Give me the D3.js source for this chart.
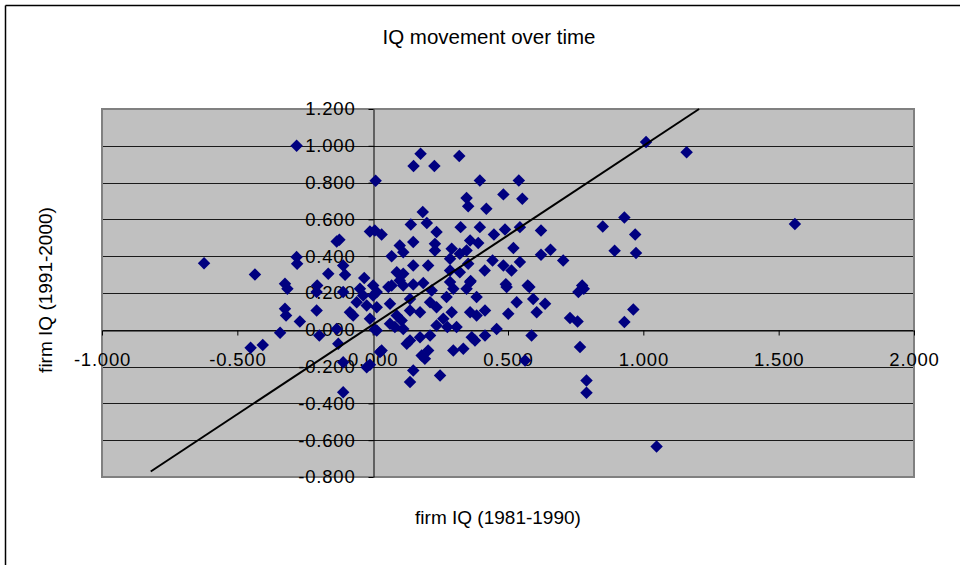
<!DOCTYPE html>
<html>
<head>
<meta charset="utf-8">
<script src="https://cdn.jsdelivr.net/npm/d3@7"></script>
<style>
  html, body { margin: 0; padding: 0; background: #ffffff; }
  svg { display: block; font-family: "Liberation Sans", Arial, sans-serif; }
</style>
</head>
<body>
<svg id="chart" width="960" height="565"></svg>
<script>
const chartTitle = "IQ movement over time";
const xAxisTitle = "firm IQ (1981-1990)";
const yAxisTitle = "firm IQ (1991-2000)";

const xTickValues = [-1, -0.5, 0, 0.5, 1, 1.5, 2];
const xTickLabels = ["-1.000", "-0.500", "0.000", "0.500", "1.000", "1.500", "2.000"];
const yTickValues = [-0.8, -0.6, -0.4, -0.2, 0, 0.2, 0.4, 0.6, 0.8, 1.0, 1.2];
const yTickLabels = ["-0.800", "-0.600", "-0.400", "-0.200", "0.000", "0.200", "0.400", "0.600", "0.800", "1.000", "1.200"];

const xValues = [
  -0.623, -0.435, -0.281, -0.451, -0.406, 1.010, 1.160, 1.560, 1.049,
  0.177, 0.151, 0.228, 0.320, 0.011, 0.396, 0.540, 0.483, 0.553, 0.347,
  0.353, 0.420, 0.185, 0.141, 0.200, 0.236, 0.325, 0.396, 0.448, 0.489,
  0.544, 0.622, 0.850, 0.930, 0.970, 0.894, 0.973, 0.704, 0.622, 0.657,
  0.520, 0.443, 0.544, 0.483, 0.513, 0.414, 0.362, 0.492, 0.573, 0.774,
  0.008, 0.033, -0.010, 0.070, 0.100, 0.113, 0.150, 0.230, 0.230, 0.205,
  0.150, 0.089, 0.113, 0.292, 0.286, 0.322, 0.347, 0.360, 0.390, 0.353,
  0.286, 0.322, 0.286, 0.360, 0.150, 0.187, 0.070, 0.002, 0.100,
  -0.281, -0.279, -0.133, -0.123, -0.164, -0.109, -0.102, -0.031, -0.324,
  -0.315, -0.205, -0.207, -0.109, -0.324, -0.320, -0.207, -0.269, -0.084,
  -0.072, -0.342, -0.197, -0.127, -0.109, -0.022, -0.109, -0.047, -0.035,
  -0.059, -0.022, 0.002, -0.010, 0.008, -0.133, 0.027,
  0.138, 0.150, 0.249, 0.193, 0.205, 0.181, 0.138, 0.175, 0.212, 0.298,
  0.335, 0.310, 0.366, 0.378, 0.415, 0.458, 0.276, 0.064, 0.015, -0.010,
  0.563, 0.501, 0.532, 0.495, 0.384, 0.415, 0.360, 0.384, 0.347, 0.298,
  0.292, 0.261, 0.236, 0.212, 0.175, 0.138, 0.107, 0.089, 0.064, 0.015,
  0.015, 0.058, 0.113, 0.138, 0.218, 0.273, 0.113, 0.082, 0.126, 0.236,
  0.587, 0.766, 0.790, 0.790, 0.963, 0.930, 0.729, 0.757, 0.760, 0.780,
  0.637, 0.606, 0.593, 0.579, 0.033
];
const yValues = [
  0.362, 0.300, 1.000, -0.098, -0.082, 1.020, 0.965, 0.575, -0.634,
  0.957, 0.890, 0.890, 0.944, 0.810, 0.812, 0.812, 0.736, 0.712, 0.716,
  0.672, 0.658, 0.640, 0.572, 0.580, 0.531, 0.558, 0.558, 0.518, 0.545,
  0.558, 0.540, 0.561, 0.610, 0.518, 0.430, 0.418, 0.377, 0.408, 0.435,
  0.444, 0.377, 0.368, 0.350, 0.322, 0.322, 0.265, 0.248, 0.241, 0.241,
  0.540, 0.518, 0.534, 0.400, 0.458, 0.422, 0.477, 0.467, 0.431, 0.350,
  0.350, 0.313, 0.304, 0.440, 0.386, 0.413, 0.431, 0.485, 0.472, 0.359,
  0.322, 0.313, 0.260, 0.260, 0.246, 0.255, 0.241, 0.241, 0.268,
  0.395, 0.359, 0.480, 0.489, 0.304, 0.350, 0.299, 0.281, 0.250,
  0.223, 0.241, 0.205, 0.205, 0.114, 0.078, 0.105, 0.045, 0.096,
  0.078, -0.016, -0.031, -0.076, -0.176, -0.203, -0.339, 0.223, 0.186,
  0.150, 0.132, 0.186, 0.060, 0.002, 0.005, -0.121,
  -0.284, -0.221, -0.248, -0.158, -0.112, -0.140, -0.058, -0.040, -0.031, -0.112,
  -0.103, 0.015, -0.040, -0.058, -0.031, 0.005, 0.015, 0.033, -0.004, -0.190,
  -0.167, 0.087, 0.150, 0.232, 0.078, 0.105, 0.096, 0.178, 0.223, 0.223,
  0.096, 0.060, 0.123, 0.150, 0.096, 0.105, 0.050, 0.078, 0.141, 0.205,
  0.123, 0.232, 0.241, 0.168, 0.214, 0.178, 0.005, 0.015, -0.076, 0.023,
  -0.031, -0.094, -0.275, -0.342, 0.110, 0.042, 0.064, 0.045, 0.205, 0.223,
  0.141, 0.096, 0.168, 0.232, -0.112
];

// reference line drawn on the chart
const lineX = [-0.82, 1.206];
const lineY = [-0.77, 1.2];

const svg = d3.select("#chart");
const W = 960, H = 565;
const plot = { left: 102, right: 914, top: 109, bottom: 477 };

const x = d3.scaleLinear().domain([-1, 2]).range([plot.left, plot.right]);
const y = d3.scaleLinear().domain([-0.8, 1.2]).range([plot.bottom, plot.top]);

// chart area border (top and left visible)
svg.append("rect").attr("x", 0).attr("y", 0).attr("width", W).attr("height", H).attr("fill", "#fff");
svg.append("line").attr("x1", 5.5).attr("x2", W).attr("y1", 5.5).attr("y2", 5.5)
  .attr("stroke", "#000").attr("stroke-width", 1.5);
svg.append("line").attr("x1", 5.5).attr("x2", 5.5).attr("y1", 5.5).attr("y2", H)
  .attr("stroke", "#000").attr("stroke-width", 1.5);

// plot area
svg.append("rect")
  .attr("x", plot.left).attr("y", plot.top)
  .attr("width", plot.right - plot.left).attr("height", plot.bottom - plot.top)
  .attr("fill", "#c0c0c0");

// gridlines
svg.append("g").selectAll("line").data(yTickValues).join("line")
  .attr("x1", plot.left).attr("x2", plot.right)
  .attr("y1", d => Math.round(y(d)) + 0.5).attr("y2", d => Math.round(y(d)) + 0.5)
  .attr("stroke", "#1a1a1a").attr("stroke-width", 1);

// plot border
svg.append("rect")
  .attr("x", plot.left).attr("y", plot.top)
  .attr("width", plot.right - plot.left).attr("height", plot.bottom - plot.top)
  .attr("fill", "none").attr("stroke", "#808080").attr("stroke-width", 2);

// axes
const xAxis = d3.axisBottom(x).tickValues(xTickValues)
  .tickFormat((d, i) => xTickLabels[i]).tickSizeInner(5).tickSizeOuter(0).tickPadding(17);
const gx = svg.append("g").attr("transform", `translate(0,${Math.round(y(0)) + 0.5})`).call(xAxis);

const yAxis = d3.axisLeft(y).tickValues(yTickValues)
  .tickFormat((d, i) => yTickLabels[i]).tickSizeInner(5).tickSizeOuter(0).tickPadding(13);
const gy = svg.append("g").attr("transform", `translate(${Math.round(x(0)) + 0.5},0)`).call(yAxis);

[gx, gy].forEach(g => {
  g.select(".domain").attr("stroke", "#000").attr("stroke-width", 1);
  g.selectAll(".tick line").attr("stroke", "#000");
  g.selectAll(".tick text")
    .attr("fill", "#000")
    .style("font-family", "'Liberation Sans', Arial, sans-serif")
    .style("font-size", "18.5px")
    .style("letter-spacing", "0.8px");
});

// markers
const pts = xValues.map((v, i) => ({ x: v, y: yValues[i] }));
const diamond = d3.symbol().type(d3.symbolSquare).size(78);
svg.append("g").selectAll("path").data(pts).join("path")
  .attr("d", diamond)
  .attr("transform", d => `translate(${x(d.x)},${y(d.y)}) rotate(45)`)
  .attr("fill", "#000080");

// reference line
svg.append("line")
  .attr("x1", x(lineX[0])).attr("y1", y(lineY[0]))
  .attr("x2", x(lineX[1])).attr("y2", y(lineY[1]))
  .attr("stroke", "#000").attr("stroke-width", 2);

// titles
svg.append("text").attr("x", 489).attr("y", 44).attr("text-anchor", "middle")
  .style("font-size", "20.5px").attr("fill", "#000").text(chartTitle);
svg.append("text").attr("x", 498).attr("y", 524).attr("text-anchor", "middle")
  .style("font-size", "19px").attr("fill", "#000").text(xAxisTitle);
svg.append("text").attr("transform", `translate(52,290) rotate(-90)`).attr("text-anchor", "middle")
  .style("font-size", "19px").attr("fill", "#000").text(yAxisTitle);
</script>
</body>
</html>
